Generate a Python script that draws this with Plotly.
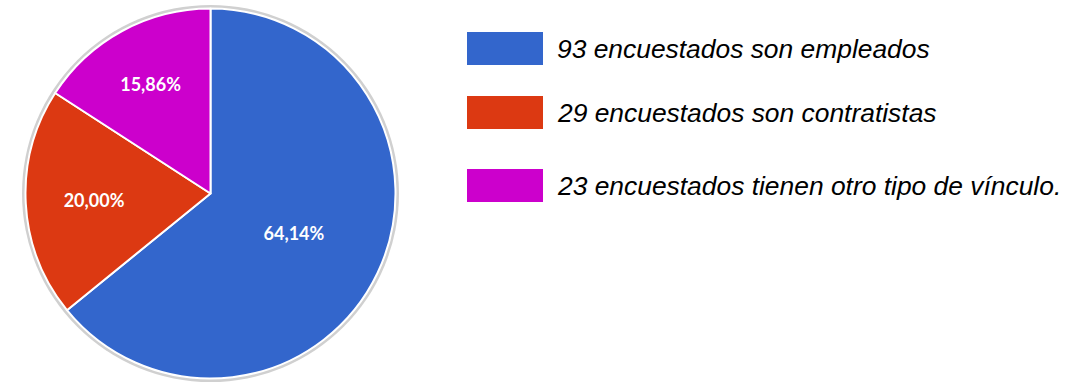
import plotly.graph_objects as go

# Survey: type of relationship of respondents
categories = ["Empleados", "Contratistas", "Otro tipo de vínculo"]
counts = [93, 29, 23]
colors = ["#3366cc", "#dc3912", "#cc00cc"]
legend_texts = [
    "93 encuestados son empleados",
    "29 encuestados son contratistas",
    "23 encuestados tienen otro tipo de vínculo.",
]

W, H = 1069, 382
cx, cy, r = 210.5, 193.5, 185.0


def px_x(x):
    return x / W


def px_y(y):
    return 1 - y / H


fig = go.Figure()
fig.add_trace(go.Pie(
    labels=categories,
    values=counts,
    sort=False,
    direction="clockwise",
    rotation=0,
    marker=dict(colors=colors, line=dict(color="white", width=2)),
    texttemplate="%{percent:.2%}",
    textposition="inside",
    insidetextorientation="horizontal",
    textfont=dict(family="Lato", size=18, color="white", weight="bold"),
    domain=dict(x=[px_x(cx - r), px_x(cx + r)], y=[px_y(cy + r), px_y(cy - r)]),
    hoverinfo="label+value+percent",
    showlegend=False,
))

shapes = [
    # soft grey rim around the pie
    dict(type="circle", xref="paper", yref="paper", layer="below",
         x0=px_x(cx - r - 3.5), x1=px_x(cx + r + 3.5),
         y0=px_y(cy + r + 3.5), y1=px_y(cy - r - 3.5),
         fillcolor="#d0d0d0", line=dict(width=0)),
]
annotations = []

# legend boxes and captions
row_tops = [32, 96, 169]
for top, col, txt in zip(row_tops, colors, legend_texts):
    shapes.append(dict(type="rect", xref="paper", yref="paper",
                       x0=px_x(467), x1=px_x(543),
                       y0=px_y(top + 33), y1=px_y(top),
                       fillcolor=col, line=dict(width=0)))
    annotations.append(dict(xref="paper", yref="paper",
                            x=px_x(555), y=px_y(top + 17),
                            xanchor="left", yanchor="middle",
                            text=f"<i>{txt}</i>", showarrow=False,
                            font=dict(family="Liberation Sans, Arial", size=26.4, color="black")))

fig.update_layout(
    width=W, height=H,
    margin=dict(l=0, r=0, t=0, b=0),
    paper_bgcolor="white",
    plot_bgcolor="white",
    separators=",.",
    shapes=shapes,
    annotations=annotations,
)

fig.write_html("out.html")
